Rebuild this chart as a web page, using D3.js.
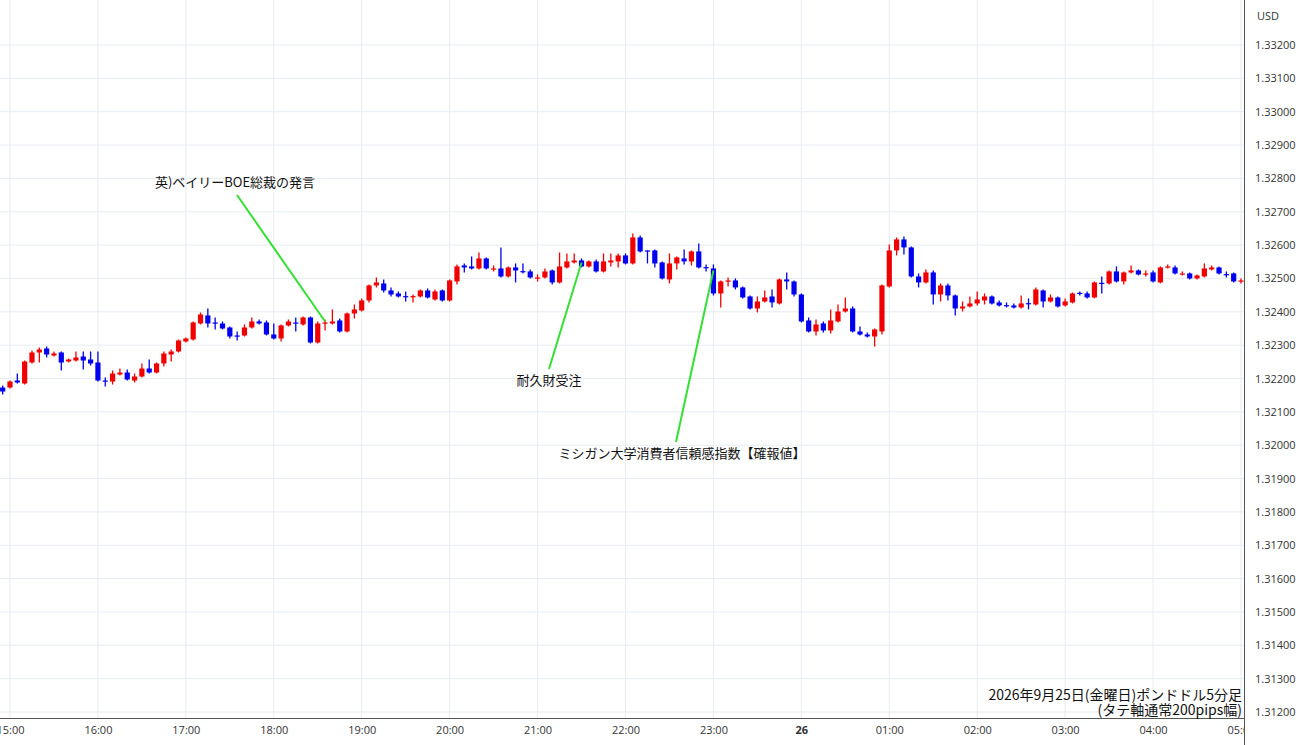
<!DOCTYPE html>
<html><head><meta charset="utf-8">
<script src="https://cdn.jsdelivr.net/npm/d3@7"></script>
<style>body{margin:0;background:#fff;font-family:"Noto Sans CJK JP","Noto Sans",sans-serif}</style>
</head><body><svg id="c" width="1300" height="745"></svg>
<script>
// prices in units of 0.00001 (price x 100000); first candle = 14:55, 5-minute bars
const open=[132173,132173,132194,132185,132248,132278,132290,132269,132278,132251,132254,132266,132257,132248,132194,132191,132212,132218,132194,132206,132230,132218,132245,132272,132281,132311,132317,132365,132389,132368,132365,132353,132329,132329,132353,132371,132368,132332,132320,132359,132368,132362,132383,132308,132366,132365,132374,132341,132395,132404,132434,132479,132485,132464,132455,132447,132446,132446,132464,132437,132464,132434,132491,132539,132536,132530,132560,132528,132530,132506,132533,132522,132521,132501,132503,132524,132488,132533,132548,132554,132536,132551,132521,132548,132551,132569,132545,132623,132584,132584,132548,132497,132545,132560,132551,132581,132534,132530,132455,132492,132494,132473,132446,132410,132431,132446,132425,132497,132491,132452,132374,132341,132365,132344,132371,132401,132410,132341,132332,132326,132341,132476,132584,132617,132593,132506,132488,132518,132452,132479,132449,132410,132416,132425,132434,132446,132428,132420,132419,132413,132426,132422,132464,132431,132443,132419,132428,132457,132455,132443,132487,132485,132521,132491,132518,132524,132513,132518,132488,132534,132533,132513,132515,132500,132506,132527,132533,132513,132515,132492];
const close=[132161,132191,132188,132251,132278,132287,132272,132275,132248,132257,132263,132254,132245,132194,132191,132215,132218,132197,132206,132230,132218,132245,132275,132281,132314,132320,132368,132392,132365,132366,132350,132326,132327,132353,132371,132365,132332,132320,132359,132371,132365,132383,132308,132365,132368,132371,132341,132395,132407,132434,132479,132488,132464,132452,132446,132446,132447,132464,132443,132461,132434,132494,132536,132533,132530,132560,132530,132530,132506,132533,132524,132521,132503,132503,132521,132488,132536,132551,132554,132536,132551,132521,132551,132554,132569,132545,132623,132581,132582,132545,132500,132545,132563,132551,132581,132533,132533,132455,132491,132494,132473,132443,132410,132431,132443,132428,132497,132491,132452,132371,132341,132362,132344,132374,132401,132410,132341,132332,132326,132347,132479,132584,132617,132593,132506,132488,132518,132452,132479,132449,132410,132416,132425,132437,132446,132425,132419,132419,132413,132425,132425,132467,132431,132443,132416,132431,132455,132455,132443,132488,132485,132521,132491,132518,132524,132512,132515,132491,132533,132536,132515,132515,132500,132509,132530,132533,132515,132512,132491,132494];
const high=[132179,132194,132215,132254,132284,132293,132296,132281,132281,132260,132281,132281,132281,132281,132203,132224,132230,132227,132215,132245,132257,132248,132281,132287,132317,132323,132371,132398,132410,132383,132371,132356,132341,132362,132383,132377,132374,132365,132362,132377,132383,132386,132386,132371,132377,132407,132380,132398,132422,132440,132482,132503,132497,132473,132461,132461,132452,132467,132470,132467,132467,132497,132542,132545,132566,132578,132563,132539,132593,132536,132545,132545,132527,132512,132530,132527,132578,132575,132575,132560,132554,132557,132575,132575,132575,132575,132635,132629,132584,132587,132551,132575,132566,132587,132584,132605,132542,132542,132494,132503,132500,132476,132449,132446,132464,132467,132500,132518,132494,132455,132383,132377,132371,132407,132422,132443,132416,132356,132338,132350,132482,132602,132623,132626,132596,132515,132527,132524,132485,132485,132452,132431,132446,132461,132455,132449,132434,132428,132425,132449,132440,132473,132467,132452,132446,132440,132458,132461,132461,132491,132506,132524,132536,132521,132539,132527,132524,132524,132536,132542,132539,132521,132518,132512,132545,132539,132536,132521,132518,132500];
const low=[132152,132170,132185,132182,132245,132248,132263,132266,132224,132248,132251,132227,132239,132191,132176,132182,132209,132194,132188,132203,132215,132215,132236,132251,132278,132308,132314,132362,132353,132347,132347,132320,132314,132326,132350,132362,132329,132317,132311,132356,132341,132359,132305,132305,132344,132362,132338,132338,132380,132401,132428,132473,132458,132446,132443,132431,132428,132443,132440,132434,132431,132431,132482,132518,132527,132527,132527,132521,132503,132503,132488,132515,132500,132491,132500,132482,132485,132530,132545,132533,132533,132518,132518,132536,132533,132542,132542,132578,132545,132533,132497,132485,132527,132542,132539,132530,132521,132449,132413,132476,132467,132440,132407,132398,132428,132413,132422,132467,132446,132368,132338,132329,132338,132335,132368,132398,132338,132329,132323,132296,132332,132473,132569,132572,132503,132473,132485,132422,132431,132434,132389,132401,132413,132419,132422,132422,132416,132413,132410,132410,132407,132419,132413,132428,132413,132416,132425,132449,132440,132440,132455,132482,132488,132482,132515,132509,132506,132488,132485,132530,132512,132509,132497,132497,132503,132524,132512,132503,132488,132485];
const yTicks=[1.3320,1.3310,1.3300,1.3290,1.3280,1.3270,1.3260,1.3250,1.3240,1.3230,1.3220,1.3210,1.3200,1.3190,1.3180,1.3170,1.3160,1.3150,1.3140,1.3130,1.3120];
const xTickLabels=["15:00","16:00","17:00","18:00","19:00","20:00","21:00","22:00","23:00","26","01:00","02:00","03:00","04:00","05:00"];
const notes=[
 {text:"英)ベイリーBOE総裁の発言",idx:44,tx:235,ty:187},
 {text:"耐久財受注",idx:79,tx:549,ty:385},
 {text:"ミシガン大学消費者信頼感指数【確報値】",idx:97,tx:682,ty:458}
];
const footer=["2026年9月25日(金曜日)ポンドドル5分足","(タテ軸通常200pips幅)"];

const t0=new Date(2026,8,25,14,55);
const times=open.map((d,i)=>new Date(+t0+i*300000));
const data=times.map((t,i)=>({t,o:open[i]/1e5,c:close[i]/1e5,h:high[i]/1e5,l:low[i]/1e5}));
const svg=d3.select("#c");
const PR=1244, PB=718;
const x=d3.scaleTime().domain([new Date(2026,8,25,15,0),new Date(2026,8,26,5,0)]).range([10,1241]);
const y=d3.scaleLinear().domain([1.3120,1.3320]).range([712,45]);
const defs=svg.append("defs");
defs.append("clipPath").attr("id","cp").append("rect").attr("x",0).attr("y",0).attr("width",PR).attr("height",PB);
defs.append("clipPath").attr("id","cx").append("rect").attr("x",0).attr("y",PB).attr("width",PR).attr("height",745-PB);
const g=svg.append("g").attr("clip-path","url(#cp)");
g.selectAll(".hg").data(yTicks).join("line").attr("x1",0).attr("x2",PR).attr("y1",d=>y(d)).attr("y2",d=>y(d)).attr("stroke","#e6ecf2");
const hours=xTickLabels.map((s,i)=>new Date(2026,8,25,15+i,0));
g.selectAll(".vg").data(hours).join("line").attr("x1",d=>x(d)).attr("x2",d=>x(d)).attr("y1",0).attr("y2",PB).attr("stroke","#e6ecf2");
const cg=g.append("g");
cg.selectAll("line.w").data(data).join("line").attr("x1",d=>x(d.t)).attr("x2",d=>x(d.t)).attr("y1",d=>y(d.h)).attr("y2",d=>y(d.l))
 .attr("stroke",d=>d.c>=d.o?"#f00000":"#0000f0").attr("stroke-width",1.3);
cg.selectAll("rect").data(data).join("rect").attr("x",d=>x(d.t)-2.6).attr("width",5.2)
 .attr("y",d=>y(Math.max(d.o,d.c))).attr("height",d=>Math.max(1.2,Math.abs(y(d.o)-y(d.c))))
 .attr("fill",d=>d.c>=d.o?"#f00000":"#0000f0");
svg.append("line").attr("x1",PR+0.5).attr("x2",PR+0.5).attr("y1",0).attr("y2",745).attr("stroke","#555");
svg.append("line").attr("x1",0).attr("x2",PR).attr("y1",PB+0.5).attr("y2",PB+0.5).attr("stroke","#555");
const ya=d3.axisRight(y).tickValues(yTicks).tickFormat(d3.format(".5f")).tickSize(0).tickPadding(11);
svg.append("g").attr("transform",`translate(${PR},0)`).call(ya).call(a=>a.select(".domain").remove())
 .selectAll("text").attr("font-family","Open Sans,Noto Sans,sans-serif").attr("font-size",11).attr("fill","#333");
svg.append("text").attr("x",1257).attr("y",20).text("USD").attr("font-size",11).attr("font-family","Open Sans,sans-serif").attr("fill","#333");
const xa=d3.axisBottom(x).tickValues(hours).tickFormat((d,i)=>xTickLabels[i]).tickSize(0).tickPadding(8);
const xg=svg.append("g").attr("clip-path","url(#cx)").append("g").attr("transform",`translate(0,${PB})`).call(xa);
xg.select(".domain").remove();
xg.selectAll("text").attr("font-family","Open Sans,Noto Sans,sans-serif").attr("font-size",11).attr("fill","#333")
 .attr("font-weight",(d,i)=>xTickLabels[i]==="26"?"bold":"normal");
notes.forEach(n=>{
 const d=data[n.idx];
 const px=x(d.t), py=y(Math.max(d.o,d.c));
 const ly=n.ty<py? n.ty+8 : n.ty-16;
 svg.append("line").attr("x1",n.tx+(n.idx===44?2:(n.idx===79?0:-6))).attr("y1",ly).attr("x2",px).attr("y2",n.ty<py?py-1:py+2).attr("stroke","#33e033").attr("stroke-width",2);
 svg.append("text").attr("x",n.tx).attr("y",n.ty).attr("text-anchor","middle").attr("font-size",13).attr("fill","#111").text(n.text);
});
footer.forEach((s,i)=>svg.append("text").attr("x",1242).attr("y",700+i*15).attr("text-anchor","end").attr("font-size",14).attr("fill","#111").text(s));
</script></body></html>
